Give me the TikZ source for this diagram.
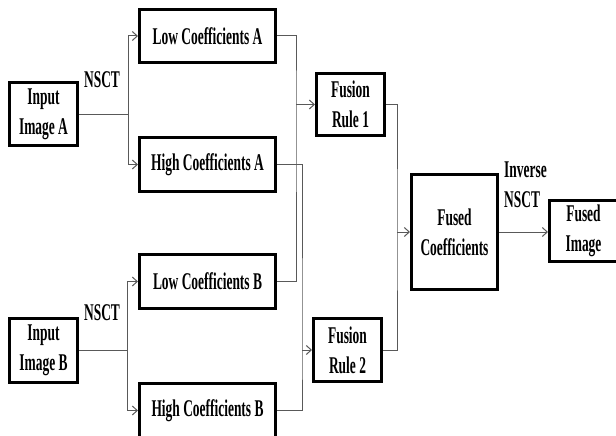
\documentclass[tikz,border=0pt]{standalone}
\usepackage{fontspec}
\setmainfont{Liberation Serif}[FakeStretch=0.56]
\usetikzlibrary{arrows.meta,calc,positioning}

\begin{document}
\begin{tikzpicture}[x=1pt,y=-1pt,
    blk/.style={draw,line width=3pt,inner sep=0pt,align=center,
        font=\bfseries\fontsize{24}{30}\selectfont},
    lbl/.style={inner sep=0pt,align=left,font=\bfseries\fontsize{24}{30}\selectfont},
    conn/.style={draw=black!65,line width=1pt},
    arr/.style={conn,-{Straight Barb[length=5pt,width=9pt]}}]
    \useasboundingbox (0,0) rectangle (616,436);
    \clip (0,0) rectangle (616,436);

    % Inputs and coefficient boxes
    \node[blk,minimum width=68,minimum height=63] (inA) at (43.5,114) {Input\\Image A};
    \node[blk,minimum width=68,minimum height=64] (inB) at (43.5,350.5) {Input\\Image B};
    \node[blk,minimum width=136,minimum height=53] (lowA) at (207.5,36) {Low Coefficients A};
    \node[blk,minimum width=136,minimum height=54] (highA) at (207.5,164.5) {High Coefficients A};
    \node[blk,minimum width=136,minimum height=54] (lowB) at (207.5,281.5) {Low Coefficients B};
    \node[blk,minimum width=136,minimum height=54] (highB) at (207.5,410.5) {High Coefficients B};

    % Fusion rules and outputs
    \node[blk,minimum width=68,minimum height=62] (rule1) at (350.5,104.5) {Fusion\\Rule 1};
    \node[blk,minimum width=68,minimum height=63] (rule2) at (347.5,350) {Fusion\\Rule 2};
    \node[blk,minimum width=86,minimum height=115] (fused) at (454.5,232) {Fused\\Coefficients};
    \node[blk,minimum width=68,minimum height=61] (fusedImg) at (583.5,231) {Fused\\Image};

    % Labels
    \node[lbl] (nsctA) at (102,80) {NSCT};
    \node[lbl] (nsctB) at (102,313) {NSCT};
    \node[lbl,anchor=west] (inv) at (504,185) {Inverse\\NSCT};

    % Split points
    \path (inA.east) ++(49,0) coordinate (sA);
    \path (inB.east) ++(48,0) coordinate (sB);
    \path (rule1.west) ++(-19,0) coordinate (m1);
    \path (rule2.west) ++(-10,0) coordinate (m2);
    \path (fused.west) ++(-13,0) coordinate (m3);

    % Decomposition
    \draw[conn] (inA.east) -- (sA);
    \draw[arr] (sA) |- (lowA.west);
    \draw[arr] (sA) |- (highA.west);
    \draw[conn] (inB.east) -- (sB);
    \draw[arr] (sB) |- (lowB.west);
    \draw[arr] (sB) |- (highB.west);

    % Fusion
    \draw[conn] (lowA.east) -| (m1) |- (lowB.east);
    \draw[arr] (m1) -- (rule1.west);
    \draw[conn] (highA.east) -| (m2) |- (highB.east);
    \draw[arr] (m2) -- (rule2.west);
    \draw[conn] (rule1.east) -| (m3) |- (rule2.east);
    \draw[arr] (m3) -- (fused.west);
    \draw[arr] (fused.east) -- (fused.east -| fusedImg.west);
\end{tikzpicture}
\end{document}
